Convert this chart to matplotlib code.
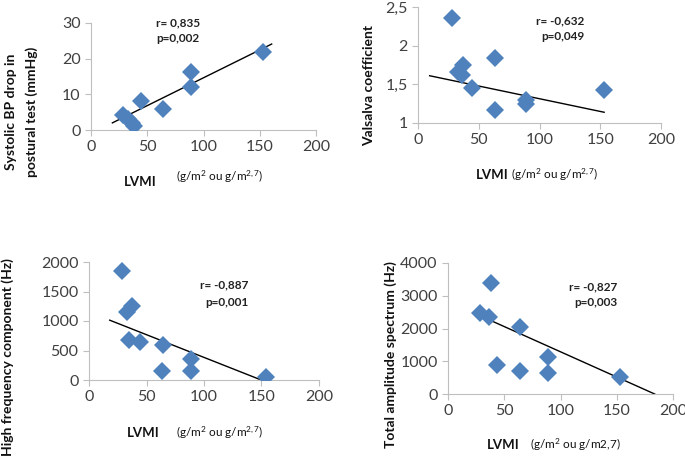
import matplotlib.pyplot as plt

plt.rcParams['font.family'] = ['Lato', 'DejaVu Sans']
plt.rcParams['mathtext.fontset'] = 'custom'
plt.rcParams['mathtext.rm'] = 'Lato'
plt.rcParams['mathtext.it'] = 'Lato'
plt.rcParams['mathtext.bf'] = 'Lato:bold'

# panel 1: systolic BP drop
x1 = [28, 33, 36, 38, 44, 64, 89, 89, 153]
y1 = [4.2, 3.0, 2.0, 1.0, 8.2, 6.0, 16.3, 12.1, 22.0]
t1x = [19, 160.6]
t1y = [2.0, 24.1]

# panel 2: Valsalva coefficient
x2 = [28.3, 37.3, 33.2, 36, 44.2, 63.4, 63.4, 89, 89, 153]
y2 = [2.357, 1.75, 1.66, 1.62, 1.456, 1.837, 1.168, 1.30, 1.25, 1.425]
t2x = [9.6, 153.2]
t2y = [1.611, 1.139]

# panel 3: high frequency component
x3 = [28.3, 33, 37, 35, 44.3, 64.6, 63.7, 89, 89, 154]
y3 = [1855, 1160, 1260, 678, 649, 593, 158, 360, 145, 56]
t3x = [18, 158.6]
t3y = [1014, -68]

# panel 4: total amplitude spectrum
x4 = [38, 28.4, 36.7, 64, 43.8, 64, 89, 89, 153]
y4 = [3390, 2465, 2345, 2058, 900, 695, 1143, 633, 531]
t4x = [34.6, 183.7]
t4y = [2296, 0]

W, H = 685, 466
fig = plt.figure(figsize=(W / 100, H / 100), dpi=100)

def px_axes(l, t, r, b):
    return fig.add_axes([l / W, 1 - b / H, (r - l) / W, (b - t) / H])

def ftext(x, y, s, **kw):
    fig.text(x / W, 1 - y / H, s, **kw)

blue = '#4F81BD'
grey = '#BFBFBF'
tick_col = '#404040'

panels = [
    (x1, y1, t1x, t1y, (91, 23, 316, 130), (0, 30), [0, 10, 20, 30], ['0', '10', '20', '30']),
    (x2, y2, t2x, t2y, (418, 7, 661, 123), (1, 2.5), [1, 1.5, 2, 2.5], ['1', '1,5', '2', '2,5']),
    (x3, y3, t3x, t3y, (89, 262, 319, 380), (0, 2000), [0, 500, 1000, 1500, 2000],
     ['0', '500', '1000', '1500', '2000']),
    (x4, y4, t4x, t4y, (448, 263, 673, 394), (0, 4000), [0, 1000, 2000, 3000, 4000],
     ['0', '1000', '2000', '3000', '4000']),
]

for xs, ys, tx, ty, box, ylim, yt, ytl in panels:
    ax = px_axes(*box)
    ax.plot(tx, ty, color='black', lw=1, zorder=2)
    ax.plot(xs, ys, 'D', color=blue, markersize=9.5, markeredgewidth=0, zorder=3)
    ax.set_xlim(0, 200)
    ax.set_ylim(*ylim)
    ax.set_xticks([0, 50, 100, 150, 200])
    ax.set_yticks(yt)
    ax.set_yticklabels(ytl)
    for s in ['top', 'right']:
        ax.spines[s].set_visible(False)
    for s in ['left', 'bottom']:
        ax.spines[s].set_color(grey)
    ax.tick_params(colors=grey, labelcolor=tick_col, labelsize=11.5, length=4, direction='out')
    ax.patch.set_alpha(0)

# correlation stats
st = dict(fontsize=8.5, fontweight='bold', color='#222222', va='center')
ftext(178, 23, 'r= 0,835', ha='center', **st)
ftext(178, 39, 'p=0,002', ha='center', **st)
ftext(584, 21, 'r= -0,632', ha='right', **st)
ftext(584, 37, 'p=0,049', ha='right', **st)
ftext(248, 285, 'r= -0,887', ha='right', **st)
ftext(248, 302, 'p=0,001', ha='right', **st)
ftext(617, 287, 'r= -0,827', ha='right', **st)
ftext(617, 303, 'p=0,003', ha='right', **st)

# y labels
yl = dict(fontsize=10, fontweight='bold', rotation=90, ha='center', va='center', color='#111111')
ftext(11, 112, 'Systolic BP drop in', **yl)
ftext(32, 112, 'postural test (mmHg)', **yl)
ftext(369, 85, 'Valsalva coefficient', **yl)
ftext(8, 357, 'High frequency component (Hz)', **yl)
ftext(391, 355, 'Total amplitude spectrum (Hz)', **yl)

# x labels
xl = dict(fontsize=9.5, fontweight='bold', ha='center', va='center', color='#111111')
ul = dict(fontsize=8.5, ha='center', va='center', color='#111111')
ftext(140, 182, 'LVMI', **xl)
ftext(220, 177, r'(g/m$^{2}$ ou g/m$^{2,7}$)', **ul)
ftext(492, 175, 'LVMI', **xl)
ftext(555, 175, r'(g/m$^{2}$ ou g/m$^{2,7}$)', **ul)
ftext(143, 433, 'LVMI', **xl)
ftext(220, 433, r'(g/m$^{2}$ ou g/m$^{2,7}$)', **ul)
ftext(503, 445, 'LVMI', **xl)
ftext(575, 445, r'(g/m$^{2}$ ou g/m2,7)', **ul)

fig.savefig('out.png', dpi=100)
